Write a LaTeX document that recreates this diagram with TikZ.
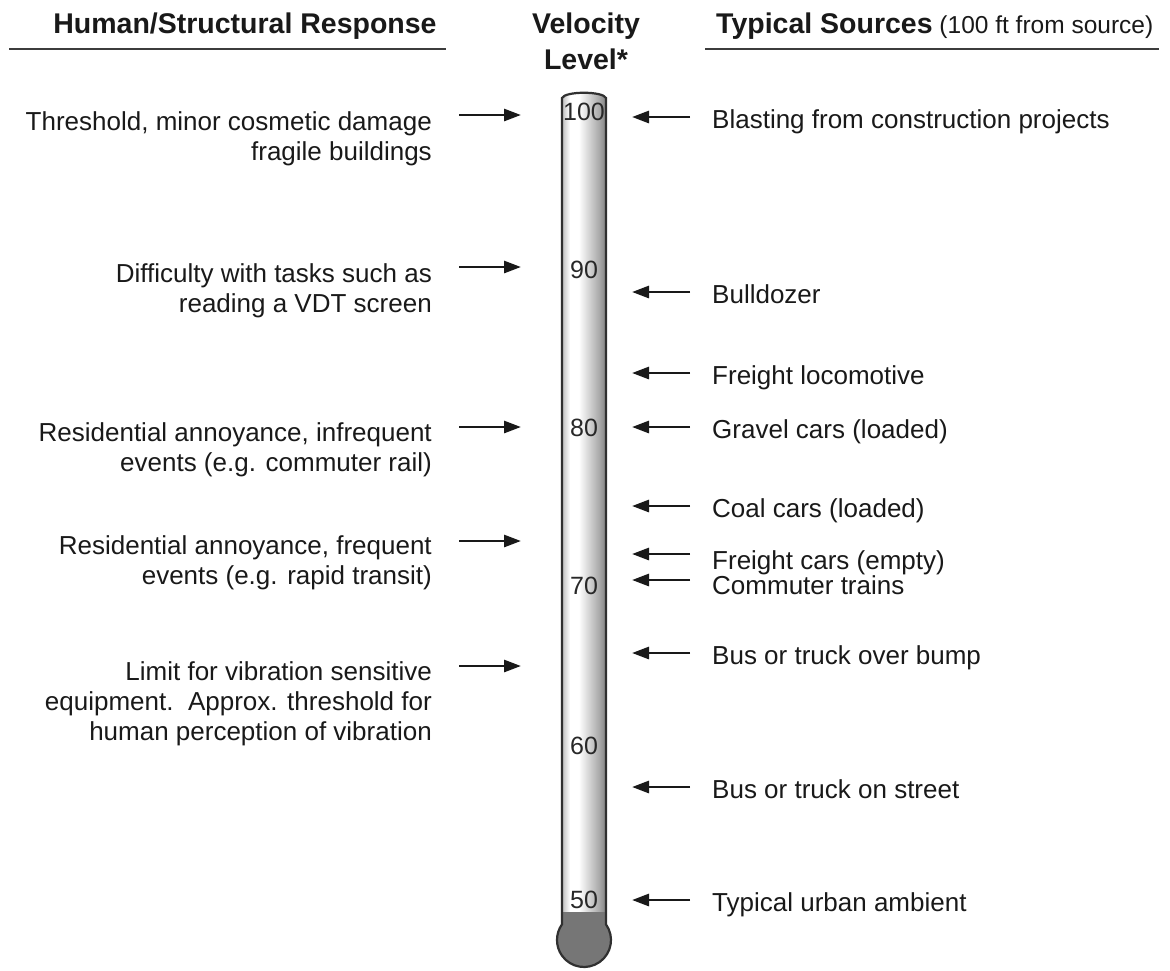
\documentclass[tikz,border=0pt]{standalone}
\usepackage{fontspec}
\setmainfont{Liberation Sans}
\usetikzlibrary{arrows.meta}
\definecolor{ink}{RGB}{25,25,25}
\definecolor{numc}{RGB}{40,40,40}
\definecolor{tubeL}{RGB}{190,190,190}
\definecolor{tubeM}{RGB}{170,170,170}
\definecolor{tubeR}{RGB}{130,130,130}
\definecolor{mercury}{RGB}{118,118,118}
\pgfdeclarehorizontalshading{tubeshade}{100bp}{color(0bp)=(tubeL); color(25bp)=(tubeL); color(34bp)=(white); color(44bp)=(white); color(67bp)=(tubeM); color(75bp)=(tubeR); color(100bp)=(tubeR)}
\begin{document}
\begin{tikzpicture}[x=1pt,y=1pt,
  body/.style={font=\fontsize{26}{30}\selectfont, text=ink, inner sep=0pt},
  lefttext/.style={body, align=right, anchor=base east},
  righttext/.style={body, anchor=base west},
  num/.style={font=\fontsize{25}{25}\selectfont, text=numc, inner sep=0pt, anchor=base},
  head/.style={font=\fontsize{28.5}{36}\selectfont\bfseries, text=ink, inner sep=0pt},
  rule/.style={line width=2.6pt, draw=ink!85},
  arr/.style={line width=2.8pt, draw=ink, -{Triangle[length=17pt,width=12pt]}},
  outline/.style={line width=2.2pt, draw=ink!90},
]
\useasboundingbox (0,0) rectangle (1170,-970);

% headers
\node[head, anchor=base] (hL) at (245,-33) {Human/Structural Response};
\node[head, anchor=base, align=center] (hV) at (586,-69) {Velocity\\Level*};
\node[head, anchor=base west] (hR) at (716,-33) {Typical Sources\fontsize{24.5}{30}\selectfont\mdseries\ (100 ft from source)};
\draw[rule] (9,-49) -- (446,-49);
\draw[rule] (705,-49) -- (1159,-49);

% thermometer
\path[shading=tubeshade] (562,-926) -- (562,-98) .. controls (565,-91) and (603,-91) .. (606,-98) -- (606,-926) -- cycle;
\fill[mercury] (562,-912) -- (606,-912) -- (606,-924.35) arc[start angle=35.4, end angle=-215.4, radius=27] -- cycle;
\draw[outline] (562,-98) .. controls (565,-91) and (603,-91) .. (606,-98) -- (606,-924.35) arc[start angle=35.4, end angle=-215.4, radius=27] -- cycle;

\foreach \v/\yy in {100/112, 90/270, 80/428, 70/586, 60/746, 50/900}
  \node[num] (n\v) at (584,{-\yy-8.9}) {\v};

% left arrows
\foreach \yy [count=\i] in {115,267,427,541,666} {
  \coordinate (La\i) at (459,-\yy);
  \coordinate (Lb\i) at (521,-\yy);
  \draw[arr] (La\i) -- (Lb\i);
}
% right arrows
\foreach \yy [count=\i] in {117,292,373,427,506,554,580,653,787,900} {
  \coordinate (Ra\i) at (690,-\yy);
  \coordinate (Rb\i) at (632,-\yy);
  \draw[arr] (Ra\i) -- (Rb\i);
}

% left texts (base = last line)
\node[lefttext] (t1) at (432,-160) {Threshold, minor cosmetic damage\\fragile buildings};
\node[lefttext] (t2) at (432,-312) {Difficulty with tasks such as\\reading a VDT screen};
\node[lefttext] (t3) at (432,-471) {Residential annoyance, infrequent\\events (e.g. commuter rail)};
\node[lefttext] (t4) at (432,-584) {Residential annoyance, frequent\\events (e.g. rapid transit)};
\node[lefttext] (t5) at (432,-740) {Limit for vibration sensitive\\equipment.\ \ Approx. threshold for\\human perception of vibration};

% right texts
\node[righttext] (s1) at (712,-128) {Blasting from construction projects};
\node[righttext] (s2) at (712,-303) {Bulldozer};
\node[righttext] (s3) at (712,-384) {Freight locomotive};
\node[righttext] (s4) at (712,-438) {Gravel cars (loaded)};
\node[righttext] (s5) at (712,-517) {Coal cars (loaded)};
\node[righttext] (s6) at (712,-569) {Freight cars (empty)};
\node[righttext] (s7) at (712,-594) {Commuter trains};
\node[righttext] (s8) at (712,-664) {Bus or truck over bump};
\node[righttext] (s9) at (712,-798) {Bus or truck on street};
\node[righttext] (s10) at (712,-911) {Typical urban ambient};
\end{tikzpicture}
\end{document}
